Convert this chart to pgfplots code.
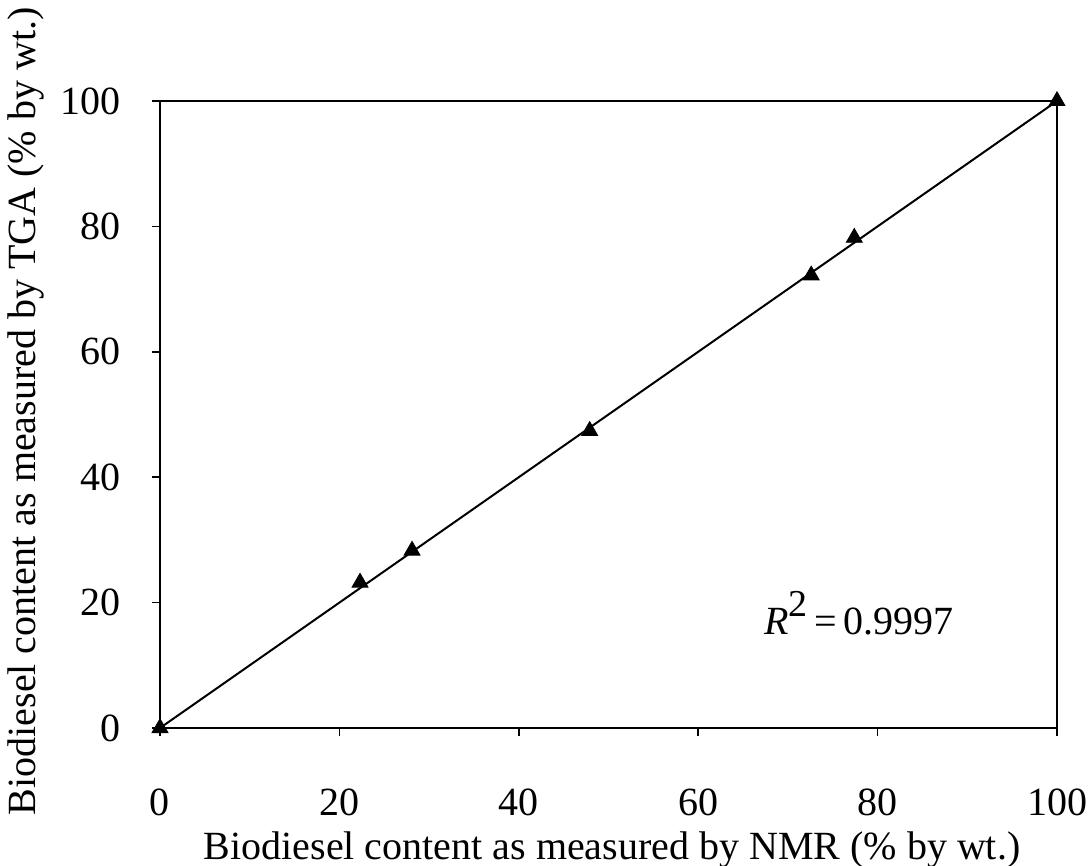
\documentclass[border=0pt]{standalone}
\usepackage{fontspec}
\setmainfont{Liberation Serif}
\usepackage{pgfplots}
\pgfplotsset{compat=1.18}

\pgfplotstableread{
nmr   tga
0     0
22.3  23.2
28.1  28.3
47.9  47.4
72.6  72.2
77.4  78.2
100   100
}\measured

\begin{document}
\begin{tikzpicture}[font=\fontsize{20}{23}\selectfont]
\begin{axis}[
  at={(0pt,0pt)}, anchor=origin,
  scale only axis,
  width=448.5pt, height=313.5pt,
  xmin=0, xmax=100, ymin=0, ymax=100,
  xtick={0,20,...,100}, ytick={0,20,...,100},
  axis x line*=bottom, axis y line*=left,
  tick align=outside, major tick length=4pt,
  axis line style={line width=0.8pt, -},
  every tick/.style={line width=0.8pt, black},
  /pgf/number format/assume math mode=true,
  xticklabel style={yshift=-23pt},
  yticklabel style={xshift=-12pt},
  xlabel={Biodiesel content as measured by NMR (\% by wt.)},
  ylabel={Biodiesel content as measured by TGA (\% by wt.)},
  xlabel style={at={(axis description cs:0.504,-0.194)}, anchor=center},
  ylabel style={at={(axis description cs:-0.150,0.505)}, anchor=center},
  clip=false,
]
% box top and right sides
\draw[line width=0.8pt] (axis cs:0,100) -- (axis cs:100,100) -- (axis cs:100,0);
% fitted line
\addplot[black, line width=1pt, no marks] coordinates {(0,0) (100,100)};
\addplot[only marks, mark=triangle*, mark size=4.6pt, black] table[x=nmr, y=tga] {\measured};
\node[anchor=west] at (axis cs:66.6,18.3) {\textit{R}\raisebox{0.45em}{\fontsize{19}{20}\selectfont 2}\,=\,0.9997};
\end{axis}
\pgfresetboundingbox
\path (-80pt,-69pt) rectangle (465.5pt,364pt);
\end{tikzpicture}
\end{document}
